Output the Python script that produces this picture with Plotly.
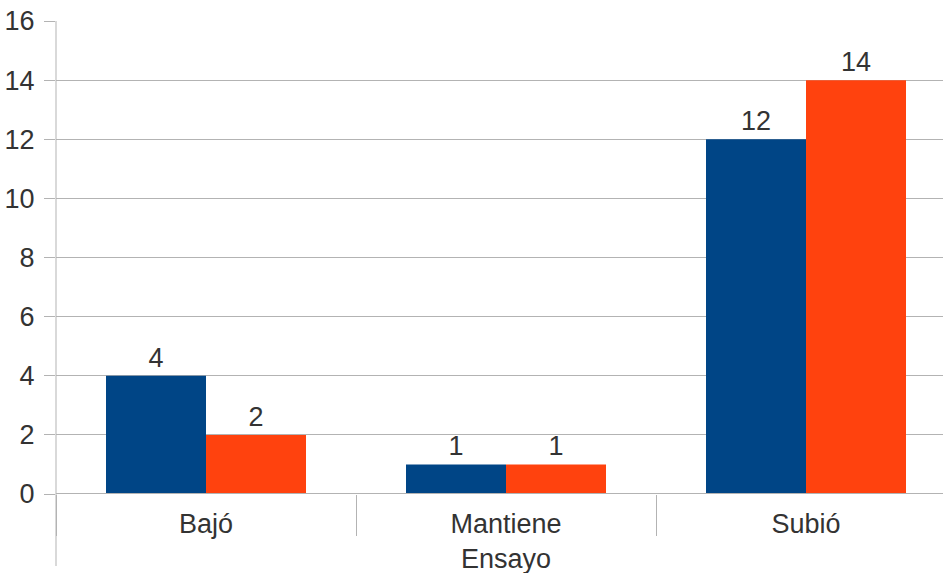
import plotly.graph_objects as go

categories = ["Bajó", "Mantiene<br>Ensayo", "Subió"]
series_a = [4, 1, 12]
series_b = [2, 1, 14]
color_a = "#004586"
color_b = "#ff420e"

font = dict(family="Liberation Sans, Arial, sans-serif", size=27, color="#333333")

fig = go.Figure()
fig.add_trace(go.Bar(x=categories, y=series_a, marker_color=color_a, marker_line_width=0,
                     text=series_a, textposition="outside", textfont=font, cliponaxis=False))
fig.add_trace(go.Bar(x=categories, y=series_b, marker_color=color_b, marker_line_width=0,
                     text=series_b, textposition="outside", textfont=font, cliponaxis=False))

fig.update_layout(
    width=943, height=573,
    margin=dict(l=56, r=0, t=21, b=79),
    paper_bgcolor="white", plot_bgcolor="white",
    barmode="group", bargap=1/3, bargroupgap=0,
    showlegend=False,
    font=font,
    xaxis=dict(
        type="category",
        range=[-0.5, 2.5 - 13/300],
        tickson="boundaries", ticks="outside", ticklen=41, tickcolor="#b3b3b3", tickwidth=1,
        showgrid=False, showline=False, zeroline=False, automargin=False,
        tickfont=font, ticklabelstandoff=11,
    ),
    yaxis=dict(
        range=[0, 16], dtick=2, tick0=0,
        showgrid=True, gridcolor="#b3b3b3", gridwidth=1,
        ticks="outside", ticklen=11, tickcolor="#b3b3b3",
        showline=False, zeroline=False, automargin=False,
        tickfont=font, ticklabelstandoff=4,
    ),
    uniformtext=dict(minsize=27, mode="show"),
)

# left axis line extending below the plot
fig.add_shape(type="line", xref="paper", yref="paper", x0=0, x1=0, y0=-72/473, y1=1,
              line=dict(color="#b3b3b3", width=1))
# baseline
fig.add_shape(type="line", xref="paper", yref="y", x0=0, x1=1, y0=0, y1=0,
              line=dict(color="#b3b3b3", width=2))

fig.write_html("out.html")
